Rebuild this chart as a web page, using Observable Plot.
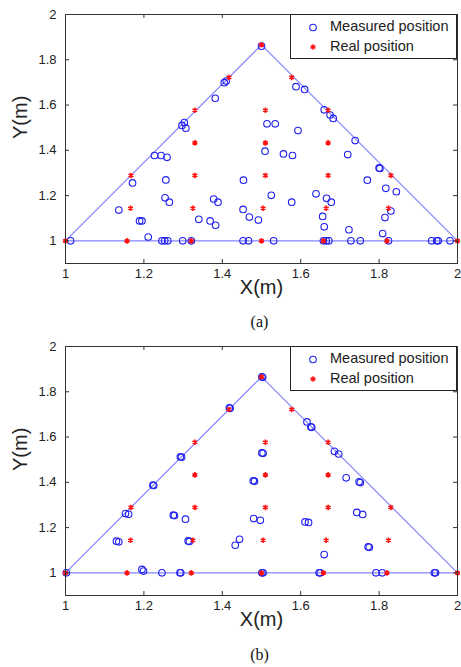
<!DOCTYPE html>
<html><head><meta charset="utf-8">
<script src="https://cdn.jsdelivr.net/npm/d3@7"></script>
<script src="https://cdn.jsdelivr.net/npm/@observablehq/plot@0.6"></script>
<style>
body{margin:0;background:#fff;font-family:Arial,"Liberation Sans",sans-serif;}
#wrap{position:relative;width:461px;height:667px;overflow:hidden;}
.panel{position:absolute;left:0;width:461px;height:305px;}
.cap{position:absolute;left:0;width:461px;text-align:center;font-family:"Liberation Serif","Times New Roman",serif;font-size:16px;line-height:20px;color:#111;padding-left:58px;box-sizing:border-box;}
.legend{position:absolute;left:290px;top:14px;width:167px;height:45px;border:1px solid #222;background:#fff;box-sizing:border-box;font-size:14.5px;color:#222;}
.legend span{position:absolute;left:39px;white-space:nowrap;}
.legend svg{position:absolute;left:0;top:0;}
</style>
</head><body>
<div id="wrap">
  <div class="panel" id="pa" style="top:0"></div>
  <div class="cap" style="top:312px">(a)</div>
  <div class="panel" id="pb" style="top:332px"></div>
  <div class="cap" style="top:645px">(b)</div>
</div>
<script>
// Triangle outline
const triX = [1, 1.5, 2, 1];
const triY = [1, 1.866, 1, 1];

// Real positions
const realX = [1, 1.157, 1.321, 1.5, 1.658, 1.82, 2,
  1.166, 1.325, 1.504, 1.665, 1.824,
  1.167, 1.33, 1.51, 1.67, 1.83,
  1.33, 1.51, 1.67,
  1.33, 1.51, 1.67,
  1.417, 1.577,
  1.5];
const realY = [1, 1, 1, 1, 1, 1, 1,
  1.144, 1.144, 1.144, 1.144, 1.144,
  1.289, 1.289, 1.289, 1.289, 1.289,
  1.433, 1.433, 1.433,
  1.577, 1.577, 1.577,
  1.722, 1.722,
  1.866];

// Measured positions, panel (a)
const measAX = [1.013, 1.246, 1.253, 1.261, 1.299, 1.321, 1.453, 1.467, 1.531, 1.658, 1.665, 1.672, 1.728, 1.752, 1.824, 1.934, 1.947, 1.951, 1.981,
  1.136, 1.171, 1.189, 1.195, 1.211, 1.227, 1.244, 1.259, 1.256, 1.254, 1.265, 1.297, 1.303, 1.307, 1.34, 1.369, 1.383, 1.378, 1.389,
  1.382, 1.405, 1.41, 1.454, 1.453, 1.469, 1.492, 1.5, 1.509, 1.514, 1.535, 1.525, 1.556, 1.579, 1.593, 1.577, 1.588, 1.61,
  1.639, 1.666, 1.678, 1.656, 1.66, 1.66, 1.675, 1.683, 1.72, 1.739, 1.723, 1.77, 1.8, 1.802, 1.817, 1.844, 1.815, 1.83, 1.809];
const measAY = [1, 1, 1, 1, 1, 1, 1, 1, 1, 1, 1, 1, 1, 1, 1, 1, 1, 1, 1,
  1.136, 1.256, 1.088, 1.088, 1.017, 1.377, 1.377, 1.369, 1.269, 1.19, 1.171, 1.51, 1.523, 1.498, 1.095, 1.088, 1.069, 1.185, 1.171,
  1.63, 1.699, 1.706, 1.268, 1.139, 1.105, 1.092, 1.86, 1.396, 1.517, 1.517, 1.201, 1.384, 1.377, 1.487, 1.171, 1.681, 1.669,
  1.208, 1.188, 1.171, 1.108, 1.062, 1.579, 1.556, 1.541, 1.381, 1.443, 1.049, 1.268, 1.322, 1.32, 1.232, 1.217, 1.103, 1.132, 1.032];

// Measured positions, panel (b)
const measBX = [1.002, 1.293, 1.296, 1.223, 1.225, 1.153, 1.161, 1.13, 1.136, 1.195, 1.199, 1.246, 1.292, 1.294,
  1.275, 1.278, 1.306, 1.313, 1.316, 1.433, 1.444, 1.479, 1.482, 1.48, 1.497, 1.501, 1.504, 1.501, 1.504,
  1.611, 1.62, 1.66, 1.647, 1.65, 1.716, 1.749, 1.752, 1.743, 1.758, 1.772, 1.775, 1.792, 1.808, 1.941, 1.944,
  1.686, 1.697, 1.501, 1.503, 1.418, 1.42, 1.616, 1.626, 1.628];
const measBY = [1, 1.513, 1.511, 1.388, 1.386, 1.262, 1.259, 1.14, 1.137, 1.015, 1.008, 1, 1, 1,
  1.255, 1.253, 1.237, 1.141, 1.139, 1.122, 1.148, 1.407, 1.405, 1.24, 1.232, 1.53, 1.528, 1, 1,
  1.225, 1.223, 1.081, 1, 1, 1.42, 1.402, 1.399, 1.267, 1.258, 1.115, 1.113, 1, 1, 1, 1,
  1.537, 1.525, 1.866, 1.864, 1.729, 1.727, 1.667, 1.645, 1.643];

// Axis ticks
const xTicks = [1, 1.2, 1.4, 1.6, 1.8, 2];
const xTickLabels = ["1", "1.2", "1.4", "1.6", "1.8", "2"];
const yTicks = [1, 1.2, 1.4, 1.6, 1.8, 2];
const yTickLabels = ["1", "1.2", "1.4", "1.6", "1.8", "2"];

const W = 461, H = 305, mL = 65, mR = 4, mT = 14, mB = 42;
const innerW = W - mL - mR, innerH = H - mT - mB;
const tk = 4;

function makePlot(mx, my) {
  const idx = mx.map((_, i) => i);
  const tri = triX.map((_, i) => i);
  const real = realX.map((_, i) => i);
  return Plot.plot({
    width: W, height: H, marginLeft: mL, marginRight: mR, marginTop: mT, marginBottom: mB,
    x: {domain: [1, 2]},
    y: {domain: [0.9, 2]},
    style: {fontFamily: "Arial, 'Liberation Sans', sans-serif", fontSize: "13px", color: "#222", background: "transparent"},
    marks: [
      Plot.line(tri, {x: i => triX[i], y: i => triY[i], stroke: "#8585ff", strokeWidth: 1.2}),
      Plot.dot(idx, {x: i => mx[i], y: i => my[i], r: 3.3, stroke: "#2020f0", strokeWidth: 1.1}),
      Plot.dot(real, {x: i => realX[i], y: i => realY[i], symbol: "asterisk", r: 2.6, stroke: "#ff1010", strokeWidth: 1.6}),
      Plot.frame({stroke: "#333"}),
      Plot.tickX(xTicks, {x: d => d, insetTop: innerH - tk, stroke: "#333"}),
      Plot.tickX(xTicks, {x: d => d, insetBottom: innerH - tk, stroke: "#333"}),
      Plot.tickY(yTicks, {y: d => d, insetRight: innerW - tk, stroke: "#333"}),
      Plot.tickY(yTicks, {y: d => d, insetLeft: innerW - tk, stroke: "#333"}),
      Plot.axisX({ticks: xTicks, tickSize: 0, tickPadding: 5, tickFormat: (d, i) => xTickLabels[i], label: null}),
      Plot.axisY({ticks: yTicks, tickSize: 0, tickPadding: 9, tickFormat: (d, i) => yTickLabels[i], label: null}),
      Plot.text(["X(m)"], {frameAnchor: "bottom", dy: 30, fontSize: 20, fill: "#222"}),
      Plot.text(["Y(m)"], {frameAnchor: "left", dx: -45, rotate: -90, fontSize: 20, fill: "#222"})
    ]
  });
}

function legend() {
  const d = document.createElement("div");
  d.className = "legend";
  d.innerHTML = `<svg width="40" height="45">
    <circle cx="22" cy="12.5" r="3.3" fill="none" stroke="#2020f0" stroke-width="1.1"/>
    <g stroke="#ff1010" stroke-width="1.6" transform="translate(22,32)">
      <line x1="0" y1="-2.8" x2="0" y2="2.8"/><line x1="-2.4" y1="-1.4" x2="2.4" y2="1.4"/><line x1="-2.4" y1="1.4" x2="2.4" y2="-1.4"/>
    </g></svg>
    <span style="top:3px">Measured position</span>
    <span style="top:23px">Real position</span>`;
  return d;
}

const pa = document.getElementById("pa");
pa.appendChild(makePlot(measAX, measAY));
pa.appendChild(legend());
const pb = document.getElementById("pb");
pb.appendChild(makePlot(measBX, measBY));
pb.appendChild(legend());
</script>
</body></html>
